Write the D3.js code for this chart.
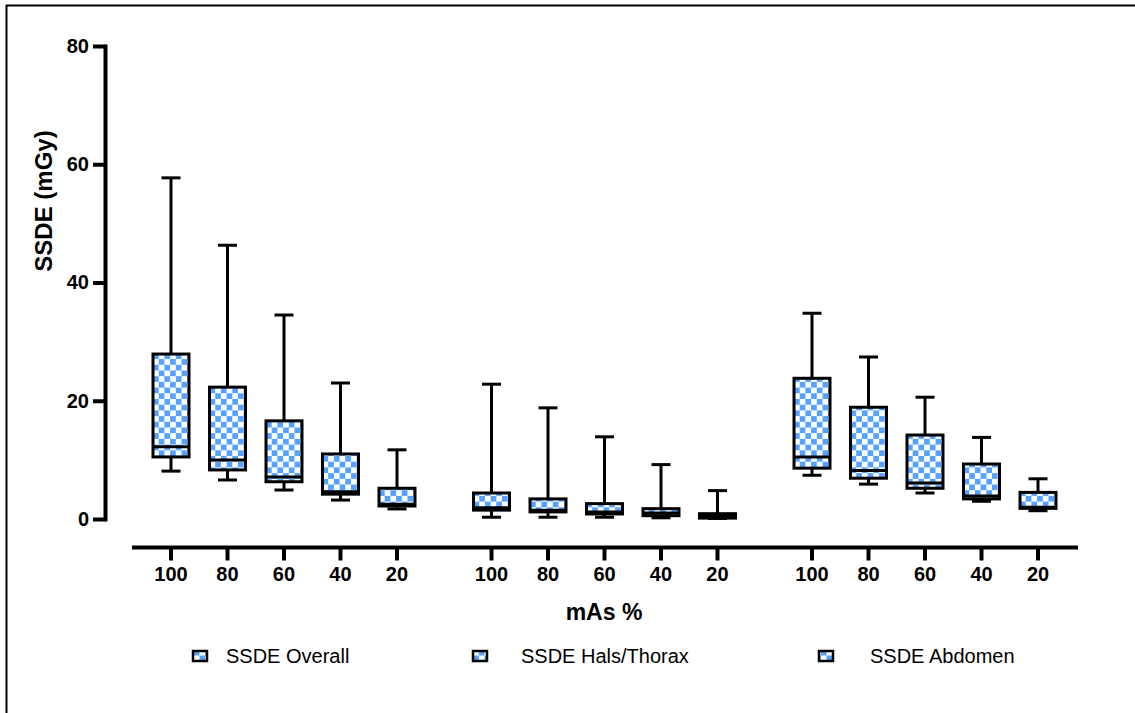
<!DOCTYPE html>
<html>
<head>
<meta charset="utf-8">
<script src="https://cdn.jsdelivr.net/npm/d3@7"></script>
<style>
  body { margin: 0; background: #fff; }
  svg { display: block; font-family: "Liberation Sans", Arial, sans-serif; }
</style>
</head>
<body>
<div id="chart"></div>
<script>
// values
const groups = ["SSDE Overall", "SSDE Hals/Thorax", "SSDE Abdomen"];
const levels = ["100", "80", "60", "40", "20"];
const yTicks = [0, 20, 40, 60, 80];
const minVals = [[8.1, 6.6, 4.9, 3.2, 1.7], [0.3, 0.3, 0.3, 0.2, 0.1], [7.4, 5.9, 4.4, 3.0, 1.4]];
const q1Vals = [[10.5, 8.3, 6.3, 4.2, 2.2], [1.5, 1.2, 0.85, 0.56, 0.15], [8.6, 6.9, 5.2, 3.4, 1.8]];
const medVals = [[12.2, 10.0, 7.1, 4.6, 2.5], [1.9, 1.5, 1.2, 1.0, 0.5], [10.5, 8.2, 6.1, 3.9, 2.0]];
const q3Vals = [[27.9, 22.3, 16.6, 11.0, 5.2], [4.4, 3.4, 2.6, 1.75, 0.9], [23.8, 18.9, 14.2, 9.3, 4.5]];
const maxVals = [[57.7, 46.3, 34.5, 23.0, 11.7], [22.8, 18.8, 13.9, 9.2, 4.8], [34.8, 27.4, 20.6, 13.8, 6.8]];

const width = 1135, height = 713;
const blue = "#55a3ff";

const svg = d3.select("#chart").append("svg")
  .attr("width", width)
  .attr("height", height);

const defs = svg.append("defs");
const pat = defs.append("pattern")
  .attr("id", "checks")
  .attr("patternUnits", "userSpaceOnUse")
  .attr("width", 11.4).attr("height", 11.4);
pat.append("rect").attr("width", 11.4).attr("height", 11.4).attr("fill", "#fff");
pat.append("rect").attr("width", 5.7).attr("height", 5.7).attr("fill", blue);
pat.append("rect").attr("x", 5.7).attr("y", 5.7).attr("width", 5.7).attr("height", 5.7).attr("fill", blue);

// frame (only top and left edges show)
svg.append("rect")
  .attr("x", 6.5).attr("y", 5.5)
  .attr("width", width + 20).attr("height", height + 20)
  .attr("fill", "none").attr("stroke", "#000").attr("stroke-width", 2);

// scales
const y = d3.scaleLinear().domain([0, 80]).range([519, 46]);

const x0 = d3.scaleBand()
  .domain(groups)
  .range([142.75, 1066.25])
  .paddingInner(0.1186)
  .paddingOuter(0);

const x1 = d3.scaleBand()
  .domain(levels)
  .range([0, x0.bandwidth()])
  .paddingInner(0.363)
  .paddingOuter(0.1815);

// y axis
const yAxis = svg.append("g")
  .attr("transform", "translate(105,0)")
  .call(d3.axisLeft(y).tickValues(yTicks).tickSize(12).tickSizeOuter(0).tickPadding(4));
yAxis.select(".domain").attr("stroke-width", 4).attr("stroke-linecap", "square");
yAxis.selectAll(".tick line").attr("stroke-width", 4);
yAxis.selectAll(".tick text")
  .attr("font-size", 20).attr("font-weight", "bold").attr("fill", "#000")
  .attr("font-family", "Liberation Sans, Arial, sans-serif");

svg.append("text")
  .attr("transform", "translate(52,201) rotate(-90)")
  .attr("text-anchor", "middle")
  .attr("font-size", 24).attr("font-weight", "bold")
  .text("SSDE (mGy)");

// x axis
svg.append("line")
  .attr("x1", 132).attr("x2", 1078)
  .attr("y1", 547.5).attr("y2", 547.5)
  .attr("stroke", "#000").attr("stroke-width", 4);

groups.forEach(g => {
  const ax = svg.append("g")
    .attr("transform", `translate(${x0(g)},547.5)`)
    .call(d3.axisBottom(x1).tickSize(13).tickPadding(6));
  ax.select(".domain").remove();
  ax.selectAll(".tick line").attr("stroke-width", 4);
  ax.selectAll(".tick text")
    .attr("font-size", 20).attr("font-weight", "bold").attr("fill", "#000")
    .attr("font-family", "Liberation Sans, Arial, sans-serif");
});

svg.append("text")
  .attr("x", 604).attr("y", 620)
  .attr("text-anchor", "middle")
  .attr("font-size", 23).attr("font-weight", "bold")
  .text("mAs %");

// boxes
const rows = [];
groups.forEach((g, gi) => {
  levels.forEach((l, li) => {
    rows.push({
      g, l,
      min: minVals[gi][li], q1: q1Vals[gi][li], med: medVals[gi][li],
      q3: q3Vals[gi][li], max: maxVals[gi][li]
    });
  });
});

const bw = x1.bandwidth();
const capW = 19;

const box = svg.append("g").selectAll("g")
  .data(rows)
  .join("g")
  .attr("transform", d => `translate(${x0(d.g) + x1(d.l)},0)`)
  .attr("stroke", "#000")
  .attr("stroke-width", 3);

// whiskers
box.append("line")
  .attr("x1", bw / 2).attr("x2", bw / 2)
  .attr("y1", d => y(d.max)).attr("y2", d => y(d.q3));
box.append("line")
  .attr("x1", bw / 2).attr("x2", bw / 2)
  .attr("y1", d => y(d.min)).attr("y2", d => y(d.q1));
box.append("line")
  .attr("x1", bw / 2 - capW / 2).attr("x2", bw / 2 + capW / 2)
  .attr("y1", d => y(d.max)).attr("y2", d => y(d.max));
box.append("line")
  .attr("x1", bw / 2 - capW / 2).attr("x2", bw / 2 + capW / 2)
  .attr("y1", d => y(d.min)).attr("y2", d => y(d.min));

box.append("rect")
  .attr("x", 0).attr("width", bw)
  .attr("y", d => y(d.q3))
  .attr("height", d => y(d.q1) - y(d.q3))
  .attr("fill", "url(#checks)");

box.append("line")
  .attr("x1", 0).attr("x2", bw)
  .attr("y1", d => y(d.med)).attr("y2", d => y(d.med));

// legend
const legendX = [193, 473, 819];
const legendTextX = [226, 521, 870];
const leg = svg.append("g").selectAll("g")
  .data(groups)
  .join("g");
leg.append("rect")
  .attr("x", (d, i) => legendX[i]).attr("y", 651)
  .attr("width", 14).attr("height", 10)
  .attr("fill", "url(#checks)")
  .attr("stroke", "#000").attr("stroke-width", 2.5);
leg.append("text")
  .attr("x", (d, i) => legendTextX[i]).attr("y", 663)
  .attr("font-size", 20)
  .text(d => d);
</script>
</body>
</html>
